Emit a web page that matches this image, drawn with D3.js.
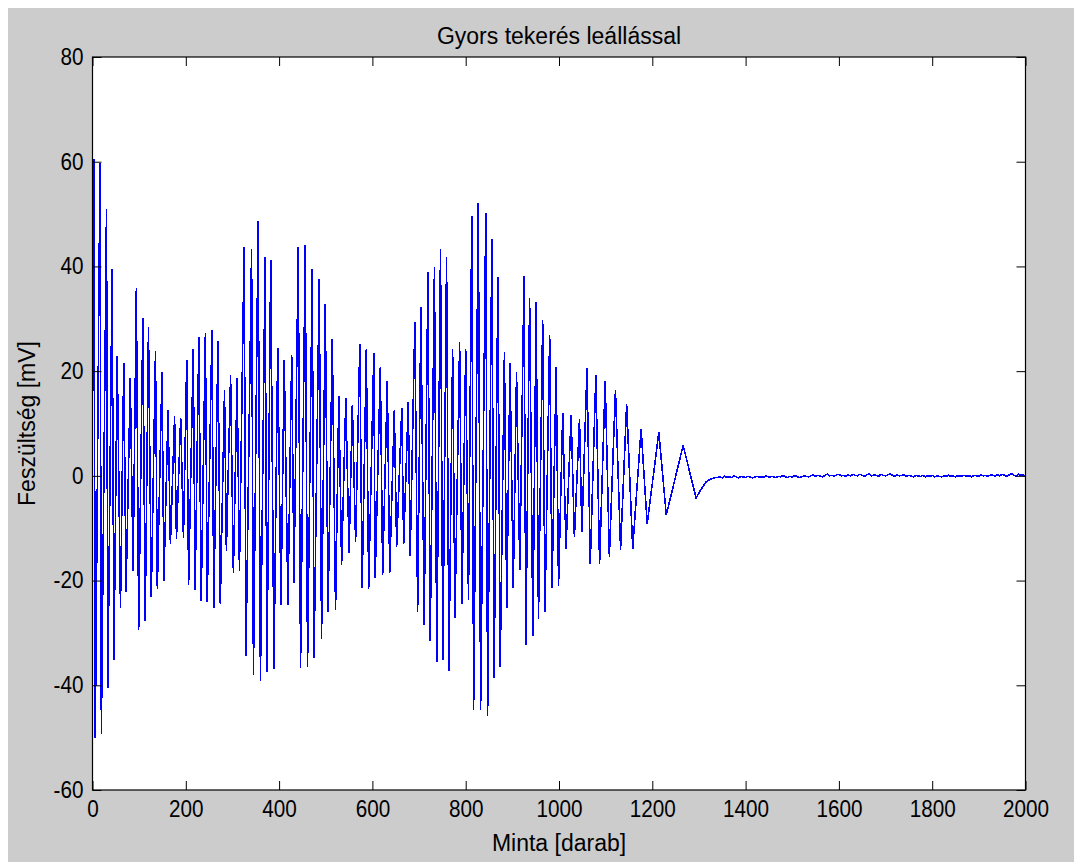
<!DOCTYPE html>
<html>
<head>
<meta charset="utf-8">
<script src="https://cdn.jsdelivr.net/npm/d3@7"></script>
<style>
  body { margin: 0; background: #ffffff; }
  text { font-family: "Liberation Sans", Arial, sans-serif; fill: #000; }
</style>
</head>
<body>
<div id="chart"></div>
<script>
// values (sample index / mV)
var peakSample = [3, 16, 30, 42, 53, 67, 81, 94, 108, 120, 135, 149, 162, 176, 189, 202, 216, 228, 242, 256,
    269, 283, 296, 310, 325, 341, 355, 370, 382, 397, 411, 427, 441, 456, 471, 486, 499, 514, 528, 543,
    557, 573, 587, 603, 617, 632, 647, 663, 677, 691, 704, 719, 733, 746, 759, 772, 787, 800, 813, 827,
    843, 856, 869, 883, 895, 909, 925, 937, 951, 965, 980, 994, 1008, 1026, 1044, 1060, 1079, 1099, 1121, 1145,
    1176, 1214, 1266];
var peakValue = [60.6, 59.7, 50.9, 39.5, 22.8, 21.5, 18.7, 35.8, 30.2, 28.4, 23.8, 19.9, 12.5, 11.4, 11.1, 22.2, 24.2, 26.5, 27.2, 27.8,
    25.8, 16.4, 19.2, 18.7, 43.8, 43.3, 48.6, 41.8, 41.3, 24.5, 22.2, 23.1, 43.8, 44.1, 39.5, 37.6, 32.9, 26.1, 15.3, 14.8,
    13.6, 25.2, 24.2, 23.5, 20.8, 18.2, 12.5, 12.9, 14.1, 29.3, 32.3, 39.0, 39.9, 43.3, 41.8, 24.2, 25.6, 24.2, 49.6, 52.2,
    50.2, 45.2, 38.0, 23.6, 21.5, 19.9, 38.2, 33.9, 33.2, 29.8, 26.9, 20.8, 12.0, 11.7, 10.9, 20.5, 19.2, 18.2, 16.4, 13.7,
    9.0, 8.3, 5.8];

var troughSample = [6, 19, 33, 46, 60, 72, 87, 99, 113, 126, 139, 153, 167, 180, 195, 206, 220, 233, 246, 260,
    274, 287, 302, 315, 329, 345, 360, 374, 389, 404, 419, 432, 446, 461, 475, 491, 505, 521, 534, 550,
    564, 578, 592, 606, 622, 637, 652, 667, 681, 697, 711, 724, 738, 751, 764, 777, 792, 806, 817, 832,
    847, 861, 874, 888, 902, 916, 929, 944, 956, 970, 985, 999, 1015, 1033, 1049, 1067, 1087, 1108, 1132, 1158,
    1189, 1230, 1294];
var troughValue = [-50.0, -49.3, -40.5, -35.2, -25.2, -22.1, -18.1, -29.5, -27.8, -23.2, -21.6, -20.1, -13.1, -12.1, -11.9, -20.9, -21.8, -23.9, -24.0, -25.2,
    -24.5, -14.3, -18.6, -18.2, -34.5, -38.0, -39.1, -37.5, -36.8, -24.6, -24.6, -20.4, -36.7, -36.5, -34.8, -31.1, -26.0, -25.7, -17.0, -14.7,
    -12.7, -21.5, -21.6, -19.6, -18.9, -18.6, -13.6, -13.1, -15.4, -26.0, -28.5, -31.5, -35.5, -35.1, -37.2, -27.1, -24.5, -23.7, -44.7, -44.7,
    -45.8, -38.7, -36.6, -25.3, -21.4, -17.9, -32.4, -30.5, -27.4, -26.0, -21.4, -21.1, -13.9, -11.7, -10.8, -16.8, -16.8, -15.4, -14.1, -13.9,
    -9.2, -7.5, -4.2];

// start of the record and the settling after the last swing
var extraSample = [0, 1305, 1315, 1325, 1335];
var extraValue = [8, -2.5, -1.2, -0.6, -0.3];

// flat tail, one reading every 5 samples from 1340 to 2000
var tailStart = 1340;
var tailStep = 5;
var tailValue = [
    -0.3, -0.2, -0.4, -0.1, -0.3, -0.2, -0.3, 0.0, -0.2, -0.4, -0.1, -0.2, -0.3, -0.1, -0.2, -0.4, -0.2, -0.1, -0.3, -0.2,
    -0.2, 0.0, -0.3, -0.1, -0.2, -0.3, -0.1, -0.2, 0.1, -0.2, -0.3, -0.1, -0.2, 0.0, -0.1, -0.3, -0.2, 0.0, -0.1, -0.2,
    0.0, 0.2, -0.1, 0.1, 0.0, -0.2, 0.1, 0.3, 0.0, 0.1, -0.1, 0.2, 0.3, 0.0, 0.1, -0.1, 0.2, 0.0, 0.3, 0.1,
    0.0, 0.3, 0.1, -0.1, 0.2, 0.4, 0.0, 0.2, 0.1, -0.1, 0.3, 0.1, 0.0, 0.2, 0.4, 0.1, -0.1, 0.2, 0.0, 0.1,
    0.2, -0.1, 0.1, 0.0, -0.2, 0.1, 0.0, -0.1, 0.1, -0.2, 0.0, -0.1, 0.1, -0.2, 0.0, -0.1, -0.2, 0.0, -0.1, 0.1,
    -0.1, 0.0, -0.2, 0.1, -0.1, 0.0, 0.1, -0.1, 0.0, -0.2, 0.1, 0.0, -0.1, 0.2, 0.0, 0.1, -0.1, 0.2, 0.1, 0.0,
    0.2, 0.0, 0.3, 0.1, -0.1, 0.2, 0.4, 0.1, 0.0, 0.3, 0.1, 0.2, 0.0];

var xTicks = [0, 200, 400, 600, 800, 1000, 1200, 1400, 1600, 1800, 2000];
var yTicks = [-60, -40, -20, 0, 20, 40, 60, 80];

var titleText = "Gyors tekerés leállással";
var xLabelText = "Minta [darab]";
var yLabelText = "Feszültség [mV]";

// layout
var svgWidth = 1080;
var svgHeight = 863;
var plot = { left: 92.5, right: 1025.5, top: 57, bottom: 790 };
var tickLen = 9;

var svg = d3.select("#chart")
    .append("svg")
    .attr("width", svgWidth)
    .attr("height", svgHeight);

// grey figure background
svg.append("rect")
    .attr("x", 8)
    .attr("y", 8)
    .attr("width", 1066)
    .attr("height", 854)
    .attr("fill", "#cccccc");

svg.append("rect")
    .attr("x", plot.left)
    .attr("y", plot.top)
    .attr("width", plot.right - plot.left)
    .attr("height", plot.bottom - plot.top)
    .attr("fill", "#ffffff");

var x = d3.scaleLinear().domain([0, 2000]).range([plot.left, plot.right]);
var y = d3.scaleLinear().domain([-60, 80]).range([plot.bottom, plot.top]);

// gather every point and sort by sample
var points = [];
peakSample.forEach((s, i) => points.push([s, peakValue[i]]));
troughSample.forEach((s, i) => points.push([s, troughValue[i]]));
extraSample.forEach((s, i) => points.push([s, extraValue[i]]));
tailValue.forEach((v, i) => points.push([tailStart + i * tailStep, v]));
points.sort((a, b) => a[0] - b[0]);

svg.append("clipPath")
    .attr("id", "clip")
    .append("rect")
    .attr("x", plot.left)
    .attr("y", plot.top)
    .attr("width", plot.right - plot.left)
    .attr("height", plot.bottom - plot.top);

var line = d3.line()
    .x(d => x(d[0]))
    .y(d => y(d[1]));

// no anti-aliasing, like the old screen capture
svg.append("path")
    .datum(points)
    .attr("clip-path", "url(#clip)")
    .attr("fill", "none")
    .attr("stroke", "#0000ff")
    .attr("stroke-width", 1.6)
    .attr("shape-rendering", "crispEdges")
    .attr("d", line);

// axes, ticks pointing inward on all four sides
function styleAxis(g) {
    g.select(".domain").remove();
    g.selectAll(".tick line").attr("stroke", "#000").attr("stroke-width", 1);
    g.selectAll(".tick text")
        .attr("fill", "#000")
        .style("font-family", "'Liberation Sans', Arial, sans-serif")
        .style("font-size", "23px")
        .attr("transform", "scale(0.9,1)");
}

var plainNumber = d => String(d);

svg.append("g")
    .attr("transform", `translate(0, ${plot.bottom})`)
    .call(d3.axisBottom(x).tickValues(xTicks).tickFormat(plainNumber).tickSizeInner(-tickLen).tickSizeOuter(0).tickPadding(11))
    .call(styleAxis);

svg.append("g")
    .attr("transform", `translate(0, ${plot.top})`)
    .call(d3.axisTop(x).tickValues(xTicks).tickSizeInner(-tickLen).tickSizeOuter(0).tickFormat(""))
    .call(styleAxis);

svg.append("g")
    .attr("transform", `translate(${plot.left}, 0)`)
    .call(d3.axisLeft(y).tickValues(yTicks).tickFormat(plainNumber).tickSizeInner(-tickLen).tickSizeOuter(0).tickPadding(10))
    .call(styleAxis);

svg.append("g")
    .attr("transform", `translate(${plot.right}, 0)`)
    .call(d3.axisRight(y).tickValues(yTicks).tickSizeInner(-tickLen).tickSizeOuter(0).tickFormat(""))
    .call(styleAxis);

// axes box
svg.append("rect")
    .attr("x", plot.left)
    .attr("y", plot.top)
    .attr("width", plot.right - plot.left)
    .attr("height", plot.bottom - plot.top)
    .attr("fill", "none")
    .attr("stroke", "#000")
    .attr("stroke-width", 1.2);

// title and labels
svg.append("text")
    .attr("x", (plot.left + plot.right) / 2)
    .attr("y", 44)
    .attr("text-anchor", "middle")
    .style("font-size", "23px")
    .text(titleText);

svg.append("text")
    .attr("x", (plot.left + plot.right) / 2)
    .attr("y", 851)
    .attr("text-anchor", "middle")
    .style("font-size", "23px")
    .text(xLabelText);

svg.append("text")
    .attr("transform", `translate(35, ${(plot.top + plot.bottom) / 2}) rotate(-90)`)
    .attr("text-anchor", "middle")
    .style("font-size", "23px")
    .text(yLabelText);
</script>
</body>
</html>
